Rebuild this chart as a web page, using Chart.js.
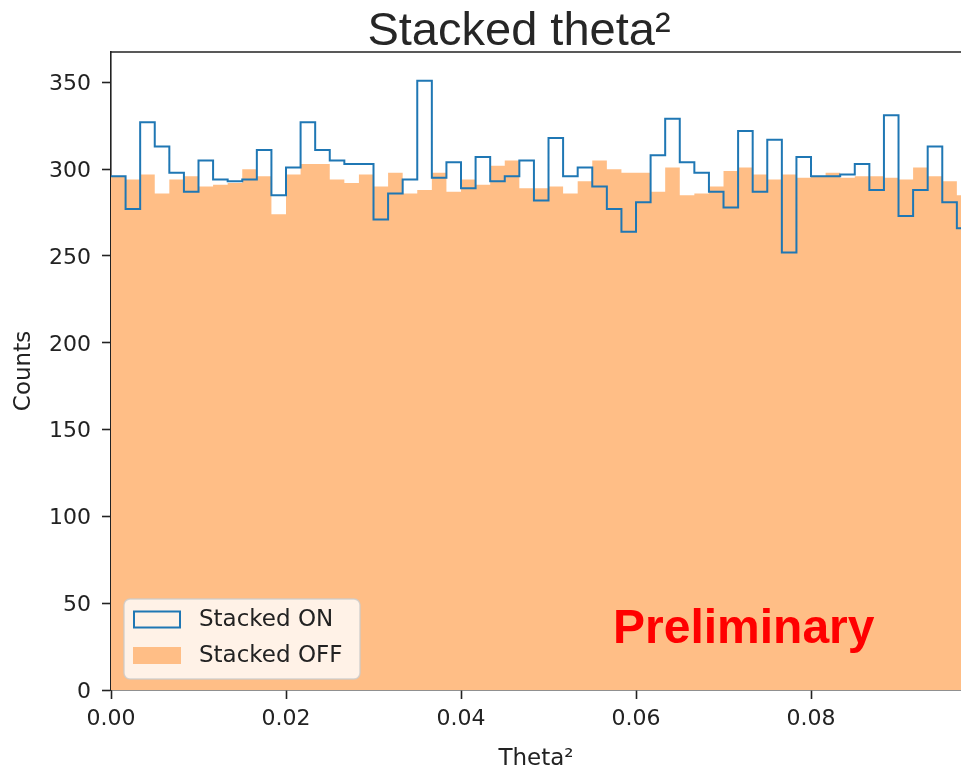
<!DOCTYPE html>
<html>
<head>
<meta charset="utf-8">
<title>Stacked theta²</title>
<script src="https://cdn.jsdelivr.net/npm/chart.js@4.4.0/dist/chart.umd.min.js"></script>
<style>
  html, body { margin: 0; padding: 0; background: #fff; overflow: hidden; }
  canvas { display: block; }
</style>
</head>
<body>
<canvas id="theta" width="961" height="770"></canvas>
<script>
// histogram: 60 bins over 0..0.1, only the first 59 are visible in the crop
const BIN_COUNT = 60;
const THETA_MAX = 0.1;
const X_VISIBLE_MAX = 0.09714;
const Y_MAX = 367.5;

const xTicks = [0, 0.02, 0.04, 0.06, 0.08];
const yTicks = [0, 50, 100, 150, 200, 250, 300, 350];

const onCounts = [
  296, 277, 327, 313, 298, 287, 305, 294, 293, 294,
  311, 285, 301, 327, 311, 305, 303, 303, 271, 286,
  294, 351, 295, 304, 289, 307, 293, 296, 305, 282,
  318, 296, 301, 290, 277, 264, 281, 308, 329, 304,
  298, 287, 278, 322, 287, 317, 252, 307, 296, 296,
  297, 303, 288, 331, 273, 288, 313, 281, 266,
];

const offCounts = [
  296, 294, 297, 286, 294, 296, 290, 291, 292, 300,
  296, 274, 297, 303, 303, 294, 292, 297, 290, 298,
  286, 288, 298, 287, 294, 291, 302, 305, 289, 289,
  290, 286, 293, 305, 300, 298, 298, 287, 301, 285,
  286, 290, 299, 301, 297, 294, 297, 295, 296, 298,
  295, 296, 296, 295, 294, 301, 296, 293, 285,
];

const BLUE = "#1f77b4";
const ORANGE = "#ffbe86";
const INK = "#222222";

const binWidth = THETA_MAX / BIN_COUNT;

// points at bin left edges + closing right edge, drawn as steps
function stepPoints(counts) {
  const pts = counts.map((c, i) => ({ x: i * binWidth, y: c }));
  pts.push({ x: counts.length * binWidth, y: counts[counts.length - 1] });
  return pts;
}

const textPlugin = {
  id: "slideText",
  afterDraw(chart) {
    const { ctx, chartArea: a } = chart;
    ctx.save();

    // top spine
    ctx.strokeStyle = INK;
    ctx.lineWidth = 1.6;
    ctx.beginPath();
    ctx.moveTo(a.left, a.top);
    ctx.lineTo(a.right, a.top);
    ctx.stroke();

    // title
    ctx.fillStyle = "#262626";
    ctx.font = '47px "Liberation Sans", Arial, sans-serif';
    ctx.textAlign = "center";
    ctx.textBaseline = "alphabetic";
    ctx.fillText("Stacked theta²", 519, 45);

    // watermark
    ctx.fillStyle = "#ff0000";
    ctx.font = 'bold 48px "Liberation Sans", Arial, sans-serif';
    ctx.textAlign = "left";
    ctx.fillText("Preliminary", 613, 643);

    // legend box
    const bx = 124, by = 599, bw = 236, bh = 80;
    ctx.beginPath();
    ctx.roundRect(bx, by, bw, bh, 6);
    ctx.fillStyle = "rgba(255,255,255,0.8)";
    ctx.fill();
    ctx.strokeStyle = "rgba(204,204,204,0.8)";
    ctx.lineWidth = 1.5;
    ctx.stroke();

    ctx.font = '23px "DejaVu Sans", sans-serif';
    ctx.textBaseline = "middle";
    chart.data.datasets.forEach((ds, i) => {
      const cy = 619.5 + i * 36;
      if (ds.fill) {
        ctx.fillStyle = ds.backgroundColor;
        ctx.fillRect(133, cy - 8.5, 48, 17);
      } else {
        ctx.strokeStyle = ds.borderColor;
        ctx.lineWidth = 2;
        ctx.strokeRect(134, cy - 8, 46, 16);
      }
      ctx.fillStyle = INK;
      ctx.fillText(ds.label, 199, cy + 1);
    });

    ctx.restore();
  },
};

const axisFont = { family: "'DejaVu Sans', sans-serif", size: 22 };
const titleFont = { family: "'DejaVu Sans', sans-serif", size: 23 };

new Chart(document.getElementById("theta"), {
  type: "line",
  data: {
    datasets: [
      {
        label: "Stacked ON",
        data: stepPoints(onCounts),
        stepped: "before",
        borderColor: BLUE,
        borderWidth: 2,
        pointRadius: 0,
        fill: false,
      },
      {
        label: "Stacked OFF",
        data: stepPoints(offCounts),
        stepped: "before",
        borderWidth: 0,
        borderColor: ORANGE,
        backgroundColor: ORANGE,
        pointRadius: 0,
        fill: "origin",
      },
    ],
  },
  options: {
    responsive: false,
    animation: false,
    devicePixelRatio: 1,
    layout: { padding: { top: 52, right: 0, left: 0, bottom: 0 } },
    plugins: {
      legend: { display: false },
      tooltip: { enabled: false },
      title: { display: false },
    },
    scales: {
      x: {
        type: "linear",
        min: 0,
        max: X_VISIBLE_MAX,
        afterFit: (s) => { s.height = 80; },
        afterBuildTicks: (s) => { s.ticks = xTicks.map((v) => ({ value: v })); },
        ticks: {
          color: INK,
          font: axisFont,
          padding: 7,
          maxRotation: 0,
          callback: (v) => Number(v).toFixed(2),
        },
        grid: { drawOnChartArea: false, drawTicks: true, tickLength: 9, tickColor: INK, tickWidth: 1.6 },
        border: { display: true, color: INK, width: 1.6 },
        title: { display: true, text: "Theta²", color: INK, font: titleFont, padding: { top: 0, bottom: -3 } },
      },
      y: {
        min: 0,
        max: Y_MAX,
        afterFit: (s) => { s.width = 111; },
        afterBuildTicks: (s) => { s.ticks = yTicks.map((v) => ({ value: v })); },
        ticks: { color: INK, font: axisFont, padding: 11, labelOffset: 2 },
        grid: { drawOnChartArea: false, drawTicks: true, tickLength: 9, tickColor: INK, tickWidth: 1.6 },
        border: { display: true, color: INK, width: 1.6 },
        title: { display: true, text: "Counts", color: INK, font: titleFont, padding: { top: 10, bottom: 0 } },
      },
    },
  },
  plugins: [textPlugin],
});
</script>
</body>
</html>
